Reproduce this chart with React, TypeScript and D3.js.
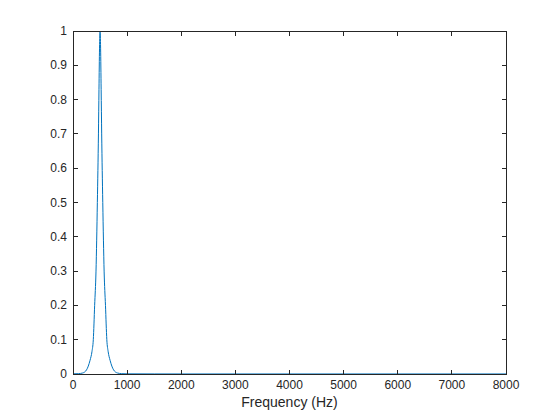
import React from "react";
import * as d3 from "d3";

const freqHz = [0, 100, 180, 250, 315, 350, 375, 400, 425, 450, 470, 480, 490, 500, 510, 520, 530, 550, 575, 600, 625, 650, 685, 750, 820, 900, 1000, 1500, 2000, 3000, 4000, 5000, 6000, 7000, 8000];
const magnitude = [0.0005, 0.001, 0.003, 0.012, 0.04, 0.065, 0.1, 0.2, 0.3, 0.5, 0.7, 0.83, 0.95, 1, 0.95, 0.83, 0.7, 0.5, 0.3, 0.2, 0.1, 0.065, 0.04, 0.012, 0.003, 0.001, 0.0005, 0.0002, 0.0001, 0.0001, 0.0001, 0.0001, 0.0001, 0.0001, 0.0001];
const xTicks = [0, 1000, 2000, 3000, 4000, 5000, 6000, 7000, 8000];
const yTicks = [0, 0.1, 0.2, 0.3, 0.4, 0.5, 0.6, 0.7, 0.8, 0.9, 1];
const xLabel = "Frequency (Hz)";

export default function App() {
  const W = 560, H = 420;
  const L = 73, R = 506, T = 31, B = 374;
  const x = d3.scaleLinear().domain([0, 8000]).range([L, R]);
  const y = d3.scaleLinear().domain([0, 1]).range([B, T]);
  const line = d3
    .line<number>()
    .x((_, i) => x(freqHz[i]))
    .y((v) => y(v))
    .curve(d3.curveMonotoneX);
  const axisColor = "#262626";
  const font = "Liberation Sans, Arial, sans-serif";
  const tl = 4.5;
  return (
    <svg width={W} height={H} style={{ position: "absolute", left: 0, top: 0, background: "#fff" }}>
      <rect x={0} y={0} width={W} height={H} fill="#fff" />
      <path d={line(magnitude) || ""} fill="none" stroke="#0072BD" strokeWidth={1} />
      <g stroke={axisColor} strokeWidth={1} shapeRendering="crispEdges">
        <rect x={L} y={T} width={R - L} height={B - T} fill="none" />
        {xTicks.map((t) => (
          <g key={"x" + t}>
            <line x1={x(t)} x2={x(t)} y1={B} y2={B - tl} />
            <line x1={x(t)} x2={x(t)} y1={T} y2={T + tl} />
          </g>
        ))}
        {yTicks.map((t) => (
          <g key={"y" + t}>
            <line x1={L} x2={L + tl} y1={y(t)} y2={y(t)} />
            <line x1={R} x2={R - tl} y1={y(t)} y2={y(t)} />
          </g>
        ))}
      </g>
      <g fill={axisColor} fontFamily={font} fontSize={12}>
        {xTicks.map((t) => (
          <text key={"xl" + t} x={x(t)} y={B + 14.5} textAnchor="middle">
            {t}
          </text>
        ))}
        {yTicks.map((t) => (
          <text key={"yl" + t} x={L - 6} y={y(t) + 4} textAnchor="end">
            {t}
          </text>
        ))}
        <text x={(L + R) / 2} y={B + 32.5} textAnchor="middle" fontSize={14}>
          {xLabel}
        </text>
      </g>
    </svg>
  );
}
